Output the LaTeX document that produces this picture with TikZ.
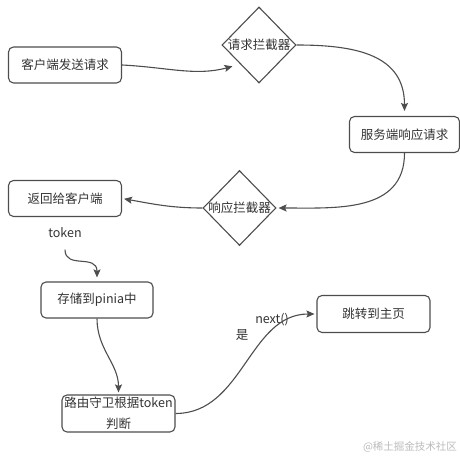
\documentclass[tikz,border=0pt]{standalone}
\usepackage{fontspec}
\setmainfont{Noto Sans CJK SC}
\usetikzlibrary{shapes.geometric,arrows.meta}
\definecolor{linegray}{HTML}{4D4D4D}
\definecolor{textgray}{HTML}{333333}
\definecolor{markgray}{HTML}{BBBBBB}
\begin{document}
\begin{tikzpicture}[x=1pt,y=1pt,>={Stealth[length=8pt,width=7pt,inset=1.5pt]},
		font=\fontsize{12.5pt}{15pt}\selectfont, text=textgray,
		box/.style={draw=linegray, line width=1.1pt, rounded corners=5pt, minimum width=113pt, minimum height=36pt, inner sep=1pt},
		gate/.style={diamond, draw=linegray, line width=1.1pt, minimum width=74pt, minimum height=76pt, inner sep=0pt},
		flow/.style={->, draw=linegray, line width=1.1pt, shorten >=2pt}]
			\useasboundingbox (0,0) rectangle (460,460);
			\node (Req) at (65,395) [box]    {客户端发送请求};
			\node (ReqI) at (259,415) [gate] {\makebox[0pt]{请求拦截器}};
			\node (Srv) at (404.5,325.5) [box, minimum width=110pt] {服务端响应请求};
			\node (ResI) at (239.5,252) [gate, minimum width=73pt, minimum height=75pt] {\makebox[0pt]{响应拦截器}};
			\node (Back) at (65,261.5) [box] {返回给客户端};
			\node (Tok) at (65,227) []       {token};
			\node (Store) at (97,160) [box, minimum width=112pt] {存储到pinia中};
			\node (Guard) at (118.5,46.5) [box, align=center, minimum height=37pt, inner sep=0pt,
				font=\fontsize{12.5pt}{21pt}\selectfont] {路由守卫根据token\\判断};
			\node (Home) at (373.5,146) [box, minimum height=37pt] {跳转到主页};
			\node (Next) at (272,140) []     {next()};
			\node (Yes) at (242,125) []      {是};
			\node (Mark) at (410,13) [text=markgray, inner sep=0pt, font=\fontsize{10.5pt}{12pt}\selectfont] {@稀土掘金技术社区};
			\draw[flow, shorten >=8pt] (Req.east) to[out=-3, in=195] (ReqI.south west);
			\draw[flow, shorten >=5pt] (ReqI.east) to[out=0, in=90, looseness=1.2] (Srv.north);
			\draw[flow] (Srv.south) to[out=-90, in=0, looseness=1.1] (ResI.east);
			\draw[flow] (ResI.west) to[out=180, in=-10] (Back.east);
			\draw[flow, shorten <=8pt, shorten >=4pt] (Tok.south) to[out=-90, in=90, looseness=1.4] (Store.north);
			\draw[flow] (Store.south) to[out=-90, in=90] (Guard.north);
			\draw[flow] (Guard.east) to[out=0, in=180] (Home.west);
		\end{tikzpicture}
\end{document}
